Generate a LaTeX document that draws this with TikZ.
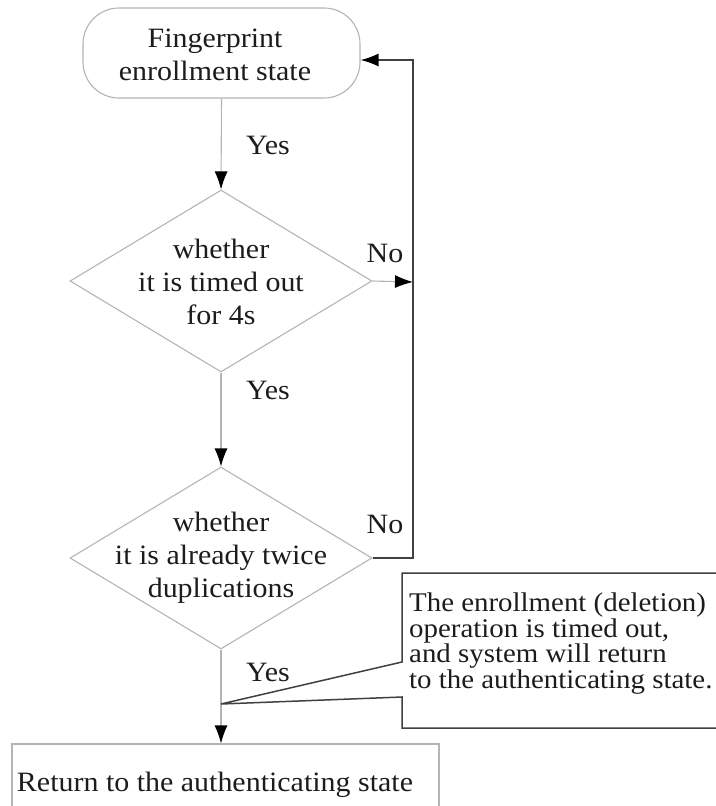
\documentclass[tikz,border=0pt]{standalone}
\usepackage{fontspec}
\setmainfont{Liberation Serif}[FakeStretch=1.07]
\usetikzlibrary{shapes.geometric,arrows.meta,calc}
\definecolor{lightline}{HTML}{B4B4B4}
\definecolor{darkline}{HTML}{404040}
\definecolor{ink}{HTML}{1C1C1C}
\begin{document}
\begin{tikzpicture}[x=1pt,y=-1pt,
  every node/.style={text=ink,font=\fontsize{28}{33}\selectfont},
  startbox/.style={draw=lightline,line width=1.1pt,rounded corners=36pt,minimum width=277pt,minimum height=90pt,inner sep=0pt},
  decision/.style={draw=lightline,line width=1.1pt,diamond,minimum width=302pt,minimum height=182pt,inner sep=0pt},
  endbox/.style={draw=lightline,line width=1.1pt,minimum width=427pt,minimum height=90pt,inner sep=0pt},
  txt/.style={align=center,inner sep=0pt},
  notetxt/.style={align=left,inner sep=0pt,font=\fontsize{27}{24}\selectfont},
  tip/.style={-{Latex[length=18pt,width=13pt,color=black]}},
  flow/.style={draw=lightline,line width=1.1pt,tip},
  loopline/.style={draw=darkline,line width=1.5pt},
  lbl/.style={inner sep=0pt},
]
\useasboundingbox (0,0) rectangle (715,806);
% nodes
\node[startbox] (start) at (221.5,53) {};
\node[txt] (starttxt) at (215,55) {Fingerprint\\enrollment state};
\node[decision] (d1) at (221,281) {};
\node[txt] (d1txt) at (221,282) {whether\\it is timed out\\for 4s};
\node[decision] (d2) at (221,558) {};
\node[txt] (d2txt) at (221,558) {whether\\it is already twice\\duplications};
\node[endbox] (final) at (225.5,789) {};
\node[txt] (finaltxt) at (215,785) {Return to the authenticating state};
% labels
\node[lbl] (y1) at (268,145) {Yes};
\node[lbl] (y2) at (268,390) {Yes};
\node[lbl] (y3) at (268,672) {Yes};
\node[lbl] (n1) at (385,253) {No};
\node[lbl] (n2) at (385,524) {No};
% connectors
\coordinate (r1) at (413,282);
\coordinate (c1) at (413,558);
\coordinate (c2) at (413,60);
\draw[flow] (start.south) -- (d1.north);
\draw[flow] (d1.south) -- (d2.north);
\draw[flow] (d1.east) -- (r1);
\draw[flow] (d2.south) -- (d2.south |- final.north);
\draw[loopline,tip] (d2.east) -- (c1) -- (c2) -- (c2 -| start.east);
% annotation callout
\coordinate (nF) at (402,662);
\coordinate (nA) at (402,573);
\coordinate (nB) at (730,573);
\coordinate (nC) at (730,728);
\coordinate (nD) at (402,728);
\coordinate (nE) at (402,697);
\coordinate (ptr) at (221,704);
\draw[loopline] (nF) -- (nA) -- (nB) -- (nC) -- (nD) -- (nE) -- (ptr) -- cycle;
\node[notetxt,anchor=north west] (note) at (409,593) {The enrollment (deletion)\\operation is timed out,\\and system will return\\to the authenticating state.};
\end{tikzpicture}
\end{document}
